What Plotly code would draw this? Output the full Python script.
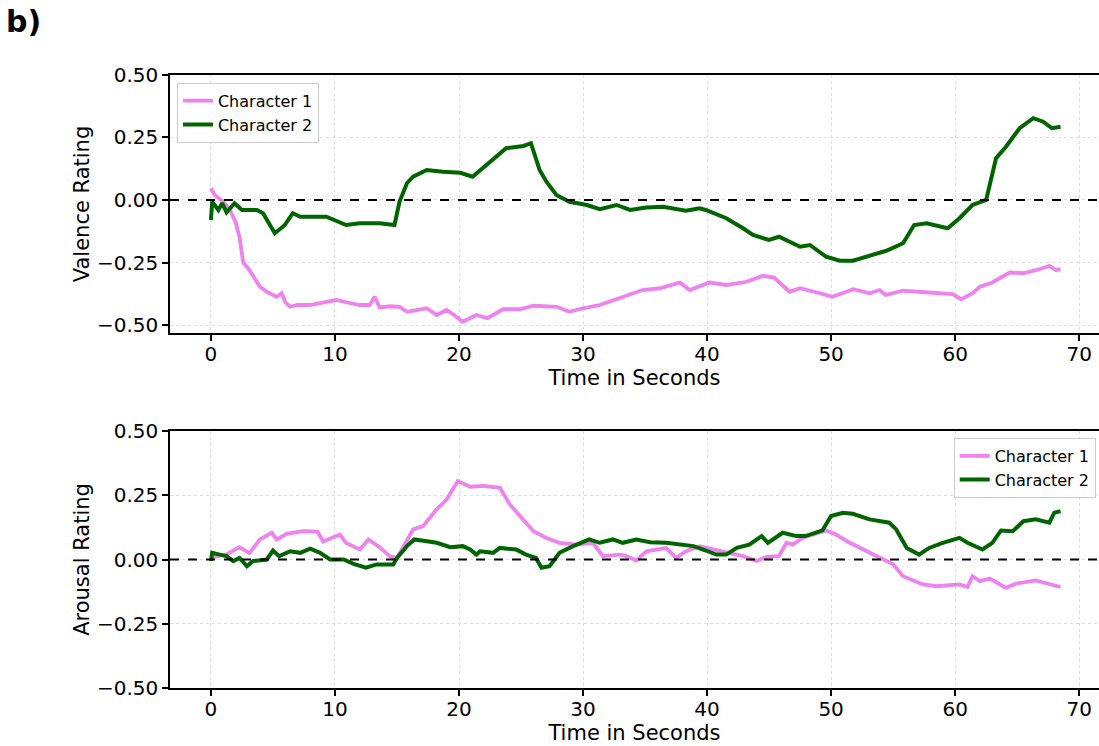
import plotly.graph_objects as go

# ---- Valence (top panel) ----
val_c1_t = [0, 0.3, 1.0, 1.53, 2.0, 2.3, 2.6, 3.1, 3.95, 4.6, 5.3, 5.7, 6.0, 6.37, 7.0, 8.0, 9.0, 10.1, 11.0, 12.0, 12.8, 13.2, 13.6, 14.5, 15.2, 15.8, 16.6, 17.4, 18.2, 19.0, 19.6, 20.3, 21.4, 22.3, 23.55, 24.9, 26.0, 27.9, 28.9, 30.0, 31.35, 32.96, 34.8, 36.2, 37.8, 38.6, 40.2, 41.55, 43.2, 44.5, 45.4, 46.65, 47.5, 49.1, 50.1, 51.8, 53.1, 53.9, 54.4, 55.8, 58.2, 59.8, 60.5, 61.4, 62.0, 63.0, 64.4, 65.5, 66.8, 67.6, 68.1, 68.5]
val_c1_v = [0.047, 0.02, -0.007, -0.04, -0.09, -0.147, -0.25, -0.28, -0.347, -0.37, -0.387, -0.373, -0.41, -0.427, -0.42, -0.42, -0.41, -0.40, -0.41, -0.42, -0.42, -0.387, -0.43, -0.425, -0.427, -0.447, -0.44, -0.433, -0.46, -0.44, -0.46, -0.487, -0.46, -0.473, -0.437, -0.437, -0.423, -0.427, -0.447, -0.433, -0.42, -0.393, -0.36, -0.353, -0.33, -0.36, -0.33, -0.34, -0.327, -0.303, -0.31, -0.367, -0.353, -0.373, -0.387, -0.357, -0.373, -0.36, -0.38, -0.363, -0.37, -0.376, -0.397, -0.373, -0.347, -0.33, -0.29, -0.293, -0.277, -0.263, -0.28, -0.277]

val_c2_t = [0, 0.1, 0.6, 0.9, 1.26, 1.9, 2.5, 3.7, 4.2, 5.15, 5.96, 6.6, 7.2, 9.3, 10.9, 12.0, 13.6, 14.8, 15.2, 15.8, 16.3, 17.4, 18.7, 20.1, 21.1, 21.9, 22.75, 23.8, 25.2, 25.8, 26.5, 27.05, 27.85, 28.9, 30.3, 31.35, 32.7, 33.8, 35.1, 36.45, 38.3, 39.4, 39.9, 41.55, 42.9, 43.7, 45.0, 45.8, 47.5, 48.3, 49.6, 50.7, 51.75, 53.4, 54.45, 55.8, 56.7, 57.7, 59.4, 60.35, 61.4, 62.5, 62.9, 63.3, 64.1, 65.2, 66.3, 67.1, 67.8, 68.5]
val_c2_v = [-0.08, -0.007, -0.04, -0.013, -0.05, -0.013, -0.04, -0.04, -0.053, -0.133, -0.1, -0.053, -0.067, -0.067, -0.1, -0.093, -0.093, -0.1, -0.007, 0.067, 0.093, 0.12, 0.113, 0.109, 0.093, 0.127, 0.167, 0.207, 0.216, 0.227, 0.12, 0.073, 0.02, -0.007, -0.02, -0.037, -0.02, -0.04, -0.03, -0.027, -0.043, -0.033, -0.04, -0.073, -0.113, -0.14, -0.16, -0.147, -0.187, -0.18, -0.227, -0.243, -0.243, -0.22, -0.203, -0.173, -0.1, -0.093, -0.113, -0.073, -0.02, 0.0, 0.08, 0.167, 0.213, 0.287, 0.327, 0.313, 0.287, 0.293]

# ---- Arousal (bottom panel) ----
aro_c1_t = [0, 1.26, 2.3, 3.1, 3.95, 4.9, 5.3, 6.1, 7.4, 8.6, 9.05, 10.4, 10.9, 12.0, 12.7, 13.6, 14.4, 15.0, 16.3, 17.1, 18.2, 19.0, 19.9, 20.9, 22.0, 23.3, 24.1, 24.9, 26.0, 27.05, 28.1, 29.5, 30.8, 31.6, 33.0, 33.5, 34.3, 35.1, 36.7, 37.5, 38.3, 39.4, 40.5, 41.55, 42.9, 44.0, 44.8, 45.8, 46.4, 46.9, 47.7, 48.5, 49.6, 50.4, 51.5, 52.6, 53.4, 54.2, 55.0, 55.8, 57.4, 58.5, 60.35, 61.0, 61.4, 62.0, 62.8, 64.1, 64.9, 66.5, 67.3, 68.1, 68.5]
aro_c1_v = [0.007, 0.02, 0.048, 0.025, 0.078, 0.104, 0.078, 0.1, 0.11, 0.108, 0.07, 0.097, 0.064, 0.039, 0.078, 0.048, 0.013, 0.005, 0.117, 0.13, 0.195, 0.233, 0.305, 0.283, 0.286, 0.279, 0.214, 0.169, 0.11, 0.084, 0.065, 0.058, 0.065, 0.013, 0.019, 0.013, -0.004, 0.032, 0.045, 0.006, 0.032, 0.052, 0.039, 0.026, 0.013, -0.006, 0.01, 0.013, 0.065, 0.058, 0.084, 0.097, 0.113, 0.097, 0.065, 0.039, 0.019, -0.001, -0.019, -0.065, -0.097, -0.104, -0.097, -0.107, -0.065, -0.084, -0.074, -0.11, -0.094, -0.081, -0.091, -0.104, -0.107]

aro_c2_t = [0, 0.1, 0.7, 1.26, 1.8, 2.3, 2.9, 3.4, 4.5, 5.0, 5.5, 6.4, 7.2, 8.0, 8.8, 9.6, 10.7, 11.5, 12.5, 13.35, 14.7, 15.0, 15.8, 16.4, 17.4, 18.2, 19.3, 20.3, 20.9, 21.4, 21.7, 22.75, 23.3, 24.6, 25.4, 26.2, 26.65, 27.3, 28.1, 29.2, 30.5, 31.35, 32.4, 33.2, 34.3, 35.4, 36.7, 38.06, 38.9, 39.9, 40.75, 41.55, 42.4, 43.4, 44.4, 44.9, 46.1, 47.2, 47.95, 49.3, 50.0, 50.95, 51.75, 53.1, 54.7, 55.25, 56.1, 57.1, 57.9, 59.0, 60.35, 61.0, 62.2, 63.0, 63.7, 64.65, 65.5, 66.5, 67.6, 68.0, 68.5]
aro_c2_v = [-0.006, 0.026, 0.019, 0.013, -0.006, 0.006, -0.026, -0.006, 0.0, 0.035, 0.013, 0.032, 0.026, 0.042, 0.026, 0.0, 0.0, -0.017, -0.032, -0.019, -0.019, 0.006, 0.052, 0.078, 0.071, 0.065, 0.048, 0.052, 0.039, 0.019, 0.032, 0.026, 0.045, 0.039, 0.019, 0.006, -0.032, -0.026, 0.026, 0.052, 0.078, 0.065, 0.078, 0.065, 0.078, 0.067, 0.065, 0.056, 0.052, 0.035, 0.019, 0.019, 0.045, 0.058, 0.091, 0.065, 0.104, 0.091, 0.091, 0.113, 0.169, 0.182, 0.178, 0.156, 0.143, 0.117, 0.045, 0.019, 0.045, 0.065, 0.084, 0.065, 0.039, 0.065, 0.113, 0.11, 0.149, 0.156, 0.143, 0.182, 0.188]

x_ticks = [0, 10, 20, 30, 40, 50, 60, 70]
y_ticks = [-0.50, -0.25, 0.00, 0.25, 0.50]
series_names = ["Character 1", "Character 2"]
colors = ["#EE82EE", "#006400"]

FONT = "DejaVu Sans"
fig = go.Figure()

fig.add_trace(go.Scatter(x=val_c1_t, y=val_c1_v, mode="lines", name=series_names[0],
                         line=dict(color=colors[0], width=3.8), xaxis="x", yaxis="y", legend="legend"))
fig.add_trace(go.Scatter(x=val_c2_t, y=val_c2_v, mode="lines", name=series_names[1],
                         line=dict(color=colors[1], width=4), xaxis="x", yaxis="y", legend="legend"))
fig.add_trace(go.Scatter(x=aro_c1_t, y=aro_c1_v, mode="lines", name=series_names[0],
                         line=dict(color=colors[0], width=3.8), xaxis="x2", yaxis="y2", legend="legend2"))
fig.add_trace(go.Scatter(x=aro_c2_t, y=aro_c2_v, mode="lines", name=series_names[1],
                         line=dict(color=colors[1], width=4), xaxis="x2", yaxis="y2", legend="legend2"))

xcommon = dict(range=[-3.3, 71.6], tickvals=x_ticks, showline=True, linecolor="black", linewidth=1.5,
               mirror=True, ticks="outside", ticklen=6, tickwidth=1.5, tickcolor="black",
               showgrid=True, gridcolor="#dddddd", griddash="dot", gridwidth=1, zeroline=False,
               automargin=False, ticklabelstandoff=-4,
               tickfont=dict(family=FONT, size=20, color="black"),
               title=dict(text="Time in Seconds", font=dict(family=FONT, size=21, color="black"), standoff=0))
ycommon = dict(tickvals=y_ticks, tickformat=".2f", showline=True, linecolor="black", linewidth=1.5,
               ticks="outside", ticklen=6, tickwidth=1.5, tickcolor="black",
               showgrid=True, gridcolor="#dddddd", griddash="dot", gridwidth=1, zeroline=False,
               automargin=False,
               tickfont=dict(family=FONT, size=20, color="black"))

fig.update_layout(
    width=1099, height=746,
    margin=dict(l=0, r=0, t=0, b=0, autoexpand=False),
    paper_bgcolor="white", plot_bgcolor="white",
    xaxis=dict(domain=[0.1547, 1.0], anchor="y", **xcommon),
    yaxis=dict(domain=[0.5536, 0.8995], anchor="x", range=[-0.532, 0.5],
               title=dict(text="Valence Rating", font=dict(family=FONT, size=21, color="black"), standoff=2),
               **ycommon),
    xaxis2=dict(domain=[0.1547, 1.0], anchor="y2", **xcommon),
    yaxis2=dict(domain=[0.0777, 0.4223], anchor="x2", range=[-0.5, 0.5],
                title=dict(text="Arousal Rating", font=dict(family=FONT, size=21, color="black"), standoff=2),
                **ycommon),
    legend=dict(x=0.161, y=0.889, xanchor="left", yanchor="top", bgcolor="white",
                bordercolor="#cccccc", borderwidth=1, font=dict(family=FONT, size=16, color="black"),
                tracegroupgap=0),
    legend2=dict(x=0.997, y=0.413, xanchor="right", yanchor="top", bgcolor="white",
                 bordercolor="#cccccc", borderwidth=1, font=dict(family=FONT, size=16, color="black"),
                 tracegroupgap=0),
    annotations=[dict(text="<b>b)</b>", x=0.004, y=0.997, xref="paper", yref="paper",
                      xanchor="left", yanchor="top", showarrow=False,
                      font=dict(family=FONT, size=30, color="black"))],
    shapes=[
        dict(type="line", xref="x domain", yref="y", x0=0, x1=1, y0=0, y1=0,
             line=dict(color="black", width=2, dash="dash")),
        dict(type="line", xref="x2 domain", yref="y2", x0=0, x1=1, y0=0, y1=0,
             line=dict(color="black", width=2, dash="dash")),
    ],
)

fig.write_html("out.html", config={"displayModeBar": False},
               post_script="document.body.style.margin='0';document.body.style.overflow='hidden';")
